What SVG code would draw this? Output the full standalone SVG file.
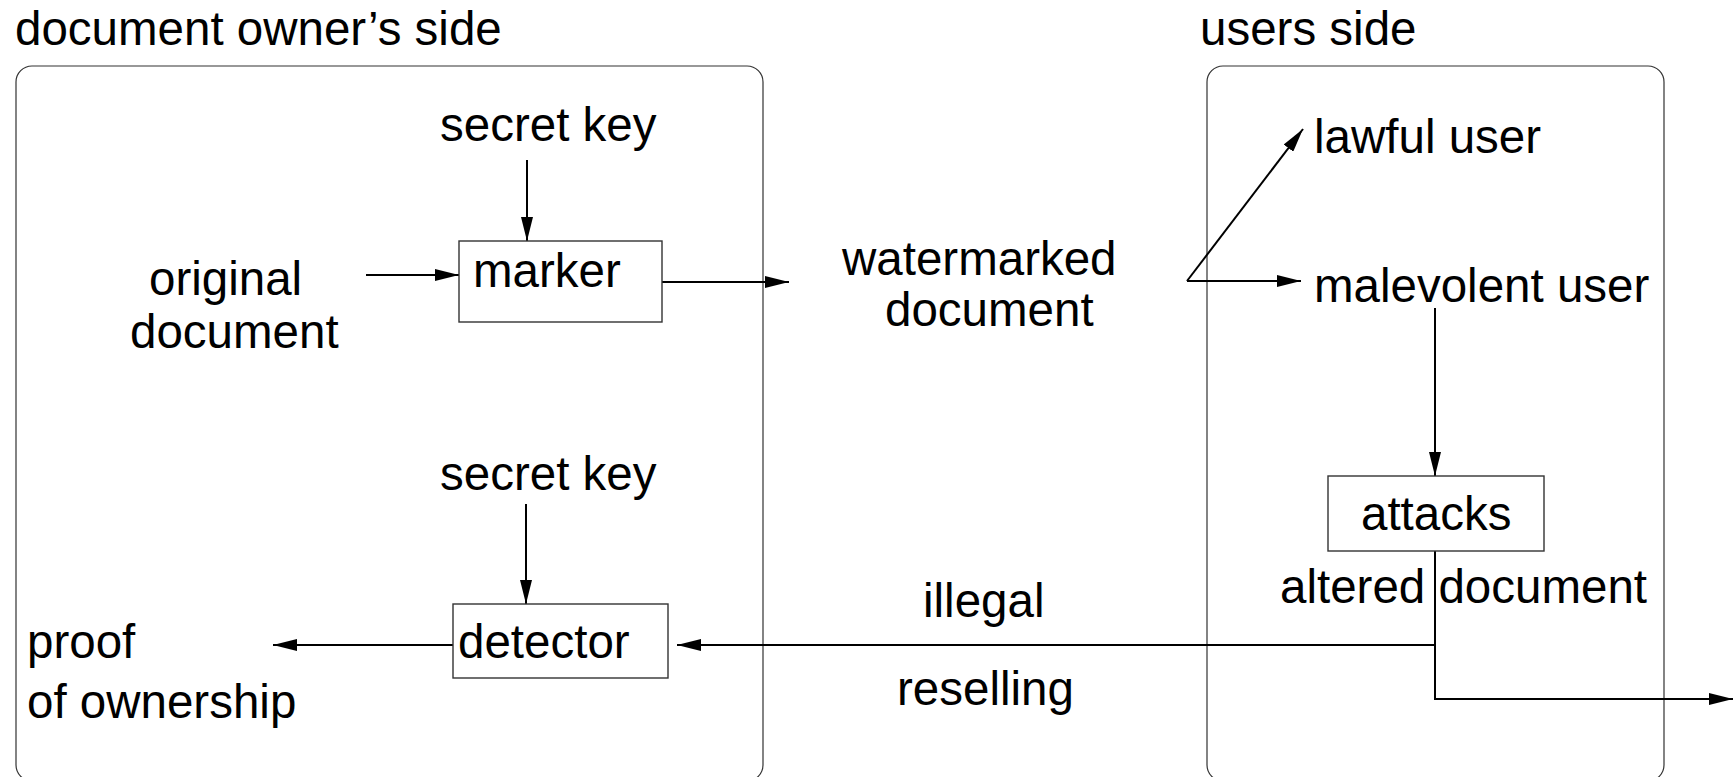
<svg xmlns="http://www.w3.org/2000/svg" width="1733" height="777" viewBox="0 0 1733 777">
<style>
text{font-family:"Liberation Sans",Arial,sans-serif;font-size:47.5px;fill:#000}
.cont{fill:none;stroke:#333;stroke-width:1.2}
.box{fill:#fff;stroke:#333;stroke-width:1.4}
.edge{fill:none;stroke:#000;stroke-width:2}
</style>
<defs>
<marker id="ah" markerUnits="userSpaceOnUse" markerWidth="24" markerHeight="12" refX="24" refY="6" orient="auto" viewBox="0 0 24 12">
<path d="M0,0 L24,6 L0,12 z" fill="#000"/>
</marker>
</defs>
<rect width="1733" height="777" fill="#fff"/>
<g id="owner-side">
<rect class="cont" x="16" y="66" width="747" height="715" rx="16"/>
<text x="15" y="45">document owner’s side</text>
</g>
<g id="users-side">
<rect class="cont" x="1207" y="66" width="457" height="715" rx="16"/>
<text x="1200" y="45">users side</text>
</g>
<g id="connectors">
<path class="edge" d="M527,160 L527,241" marker-end="url(#ah)"/>
<path class="edge" d="M366,275 L459,275" marker-end="url(#ah)"/>
<path class="edge" d="M662,282 L789,282" marker-end="url(#ah)"/>
<path class="edge" d="M1187,281 L1303,129" marker-end="url(#ah)"/>
<path class="edge" d="M1187,281 L1301,281" marker-end="url(#ah)"/>
<path class="edge" d="M1435,308 L1435,476" marker-end="url(#ah)"/>
<path class="edge" d="M1435,551 L1435,699 L1733,699" marker-end="url(#ah)"/>
<path class="edge" d="M1435,645 L677,645" marker-end="url(#ah)"/>
<path class="edge" d="M453,645 L273,645" marker-end="url(#ah)"/>
<path class="edge" d="M526,504 L526,604" marker-end="url(#ah)"/>
</g>
<g id="secret-key-1"><text x="440" y="141">secret key</text></g>
<g id="original-document"><text x="149" y="295">original</text><text x="130" y="348">document</text></g>
<g id="marker"><rect class="box" x="459" y="241" width="203" height="81"/><text x="473" y="287">marker</text></g>
<g id="watermarked-document"><text x="842" y="275">watermarked</text><text x="885" y="326">document</text></g>
<g id="lawful-user"><text x="1314" y="153">lawful user</text></g>
<g id="malevolent-user"><text x="1314" y="302">malevolent user</text></g>
<g id="attacks"><rect class="box" x="1328" y="476" width="216" height="75"/><text x="1361" y="530">attacks</text></g>
<g id="altered-document"><text x="1280" y="603">altered document</text></g>
<g id="illegal-reselling"><text x="923" y="617">illegal</text><text x="897" y="705">reselling</text></g>
<g id="secret-key-2"><text x="440" y="490">secret key</text></g>
<g id="detector"><rect class="box" x="453" y="604" width="215" height="74"/><text x="458" y="658">detector</text></g>
<g id="proof-of-ownership"><text x="27" y="658">proof</text><text x="27" y="718">of ownership</text></g>
</svg>
